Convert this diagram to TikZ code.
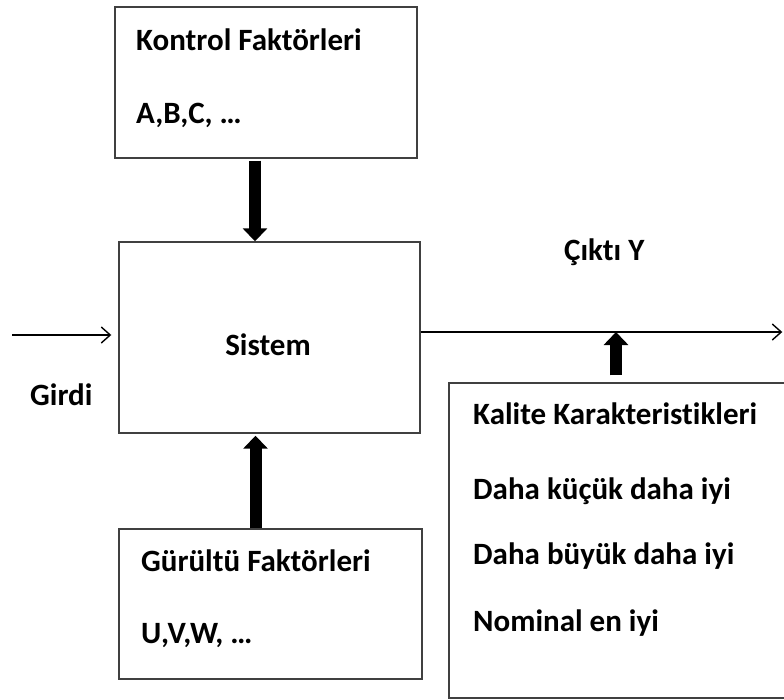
\documentclass[tikz,border=0pt]{standalone}
\usepackage{fontspec}
\setmainfont[Ligatures=NoCommon]{Carlito}
\usetikzlibrary{arrows.meta,calc}
\tikzset{
  box/.style={draw=black!75, line width=1.4pt, inner sep=0pt, fill=white},
  lbl/.style={anchor=base west, inner sep=0pt, font=\bfseries\fontsize{31}{36}\selectfont},
  fat/.style={line width=12pt, -{Triangle[width=24pt,length=13pt]}},
  thin/.style={line width=1.4pt, -{Straight Barb[length=9pt,width=16pt,line width=1.4pt]}}
}
\begin{document}
\begin{tikzpicture}[x=1pt,y=-1pt]
\useasboundingbox (0,0) rectangle (784,699);
% boxes
\node[box, minimum width=302pt, minimum height=151pt] (kontrol) at (266,82.5) {};
\node[box, minimum width=301pt, minimum height=191pt] (sistem) at (269.5,337.5) {};
\node[box, minimum width=303pt, minimum height=150pt] (gurultu) at (270.5,604) {};
\node[box, minimum width=337pt, minimum height=315pt] (kalite) at (617.5,540.5) {};
% texts
\node[lbl] (k1) at (136,50) {Kontrol Faktörleri};
\node[lbl] (k2) at (136,123) {A,B,C, …};
\node[lbl, anchor=base] (s1) at (268,355) {Sistem};
\node[lbl] (g1) at (141,571) {Gürültü Faktörleri};
\node[lbl] (g2) at (141,643) {U,V,W, …};
\node[lbl] (q1) at (473,424) {Kalite Karakteristikleri};
\node[lbl] (q2) at (473,499) {Daha küçük daha iyi};
\node[lbl] (q3) at (473,564) {Daha büyük daha iyi};
\node[lbl] (q4) at (473,631) {Nominal en iyi};
\node[lbl] (girdi) at (30,405) {Girdi};
\node[lbl] (cikti) at (564,260) {Çıktı Y};
% connectors
\coordinate (in) at (12,335);
\coordinate (out) at (783,332);
\coordinate (tap) at (616,332);
\coordinate (dn) at (255,0);
\coordinate (up) at (255.5,0);
\draw[thin, shorten >=7pt] (in) -- (sistem.west |- in);
\draw[thin, shorten >=0.7pt] (sistem.east |- out) -- (out);
\draw[fat, shorten <=2pt] (kontrol.south -| dn) -- (sistem.north -| dn);
\draw[fat, shorten >=2pt] (gurultu.north -| up) -- (sistem.south -| up);
\draw[fat, shorten <=7pt] (kalite.north -| tap) -- (tap);
\end{tikzpicture}
\end{document}
